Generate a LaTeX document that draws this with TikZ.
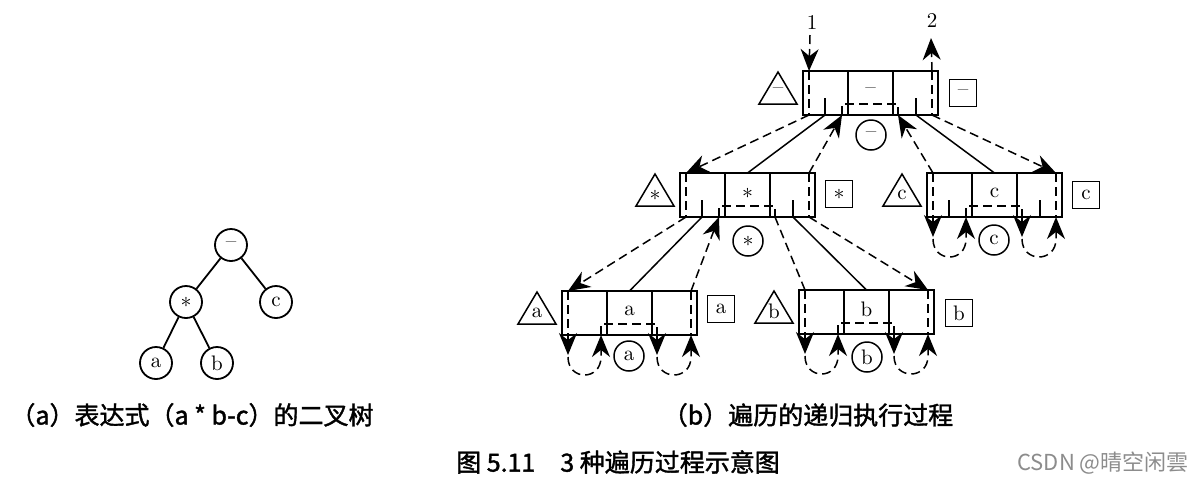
\documentclass[tikz,border=0pt]{standalone}
\usepackage{fontspec}
\newfontfamily\cjk[AutoFakeBold=1.5]{Noto Sans CJK SC}
\usetikzlibrary{arrows.meta}

% one node record of the traversal: name, left x, top y
\newcommand{\travbox}[3]{%
  \coordinate (#1-ld-t) at (#2+6,#3);
  \coordinate (#1-ld-b) at (#2+6,#3+44);
  \coordinate (#1-rd-t) at (#2+129,#3);
  \coordinate (#1-rd-b) at (#2+129,#3+44);
  \coordinate (#1-bl) at (#2+39,#3+44);
  \coordinate (#1-br) at (#2+95,#3+44);
  \coordinate (#1-lt) at (#2+22,#3+44);
  \coordinate (#1-rt) at (#2+113,#3+44);
  \coordinate (#1-c) at (#2+67.5,#3);
  \coordinate (#1-ld-e) at (#2+6,#3+66);
  \coordinate (#1-bl-e) at (#2+39,#3+66);
  \coordinate (#1-br-e) at (#2+95,#3+66);
  \coordinate (#1-rd-e) at (#2+129,#3+66);
  \draw (#2,#3) rectangle (#2+135,#3+44);
  \draw (#2+45,#3) -- (#2+45,#3+44) (#2+90,#3) -- (#2+90,#3+44);
  \draw[walk] (#1-ld-t) -- (#1-ld-b) (#1-rd-t) -- (#1-rd-b);
  \draw[walk] (#1-bl) -- ++(0,-11) -| (#1-br);
  \draw (#2-25,#3+1) -- (#2-44,#3+33) -- (#2-6,#3+33) -- cycle;
}

\begin{document}
\begin{tikzpicture}[x=0.5pt,y=-0.5pt,line width=0.75pt,
    >={Stealth[length=11pt,width=9pt,fill=black]},
    walk/.style={dash pattern=on 4.5pt off 2.5pt},
    lbl/.style={font=\fontsize{10.5}{12}\selectfont,inner sep=1pt},
    sq/.style={draw,minimum size=13.5pt,inner sep=0pt,font=\fontsize{10.5}{12}\selectfont},
    circ/.style={draw,circle,minimum size=15pt,inner sep=0pt,font=\fontsize{10.5}{12}\selectfont},
    tnode/.style={draw,circle,minimum size=16pt,inner sep=0pt,line width=0.9pt,font=\fontsize{10.5}{12}\selectfont},
    captext/.style={font=\cjk\bfseries\fontsize{12.5}{14}\selectfont,inner sep=0pt}]
  \useasboundingbox (0,0) rectangle (1200,484);

  % (a) the expression tree
  \node[tnode] (t-minus) at (231,245) {--};
  \node[tnode] (t-mul) at (186,302) {$*$};
  \node[tnode] (t-c) at (276,302) {c};
  \node[tnode] (t-a) at (156,363) {a};
  \node[tnode] (t-b) at (217,363) {b};
  \draw[line width=0.9pt] (t-minus) -- (t-mul) (t-minus) -- (t-c)
    (t-mul) -- (t-a) (t-mul) -- (t-b);

  % (b) the records
  \travbox{rootbox}{803}{71}
  \travbox{mulbox}{680}{173}
  \travbox{cbox}{927}{173}
  \travbox{abox}{562}{291}
  \travbox{bbox}{799}{290}
  \foreach \n in {rootbox,mulbox,cbox}{
    \draw (\n-lt) -- ++(0,-17) (\n-rt) -- ++(0,-17);
  }

  % labels: cell, triangle, square, circle
  \node[lbl] (rootbox-lbl) at (870.5,91) {--};
  \node[lbl] (rootbox-tri) at (778,91) {--};
  \node[sq] (rootbox-sq) at (963,93) {--};
  \node[circ] (rootbox-cir) at (871,135) {--};
  \node[lbl] (mulbox-lbl) at (747.5,193) {$*$};
  \node[lbl] (mulbox-tri) at (655,195) {$*$};
  \node[sq] (mulbox-sq) at (839,194) {$*$};
  \node[circ] (mulbox-cir) at (748,241) {$*$};
  \node[lbl] (cbox-lbl) at (994.5,193) {c};
  \node[lbl] (cbox-tri) at (902,195) {c};
  \node[sq] (cbox-sq) at (1086,195) {c};
  \node[circ] (cbox-cir) at (994,240) {c};
  \node[lbl] (abox-lbl) at (629.5,311) {a};
  \node[lbl] (abox-tri) at (537,313) {a};
  \node[sq] (abox-sq) at (721,309) {a};
  \node[circ] (abox-cir) at (629,356) {a};
  \node[lbl] (bbox-lbl) at (866.5,309) {b};
  \node[lbl] (bbox-tri) at (774,311) {b};
  \node[sq] (bbox-sq) at (959,313) {b};
  \node[circ] (bbox-cir) at (867,357) {b};

  % way in and way out
  \coordinate (in1) at (810,35);
  \coordinate (out2) at (931,38);
  \node[lbl] (lbl1) at (812,22) {1};
  \node[lbl] (lbl2) at (932,20) {2};
  \draw[walk,->] (in1) -- (rootbox-ld-t);
  \draw[walk,->] (rootbox-rd-t) -- (out2);

  % root and its children
  \draw[walk,->] (rootbox-ld-b) -- (mulbox-ld-t);
  \draw (rootbox-lt) -- (mulbox-c);
  \draw[walk,->] (mulbox-rd-t) -- (rootbox-bl);
  \draw[walk,->] (cbox-ld-t) -- (rootbox-br);
  \draw (rootbox-rt) -- (cbox-c);
  \draw[walk,->] (rootbox-rd-b) -- (cbox-rd-t);

  % * and its children
  \draw[walk,->] (mulbox-ld-b) -- (abox-ld-t);
  \draw (mulbox-lt) -- (abox-c);
  \draw[walk,->] (abox-rd-t) -- (mulbox-bl);
  \draw[walk] (bbox-ld-t) -- (mulbox-br);
  \draw (mulbox-rt) -- (bbox-c);
  \draw[walk,->] (mulbox-rd-b) -- (bbox-rd-t);

  % empty subtrees of the leaves
  \foreach \n in {abox,bbox,cbox}{
    \draw[walk,->] (\n-ld-b) -- ++(0,20);
    \draw[walk,->] (\n-ld-e) .. controls +(0,24) and +(0,24) .. (\n-bl-e) -- (\n-bl);
    \draw[walk,->] (\n-br) -- ++(0,20);
    \draw[walk,->] (\n-br-e) .. controls +(0,24) and +(0,24) .. (\n-rd-e) -- (\n-rd-b);
  }

  % captions
  \node[captext] (cap-a) at (192,415) {（a）表达式（a * b-c）的二叉树};
  \node[captext] (cap-b) at (808,415) {（b）遍历的递归执行过程};
  \node[captext] (cap-fig) at (618,462) {图 5.11\quad 3 种遍历过程示意图};
  \node[text=black!45,font=\cjk\fontsize{11}{13}\selectfont,inner sep=0pt] (mark) at (1103,463) {CSDN @晴空闲雲};
\end{tikzpicture}
\end{document}
